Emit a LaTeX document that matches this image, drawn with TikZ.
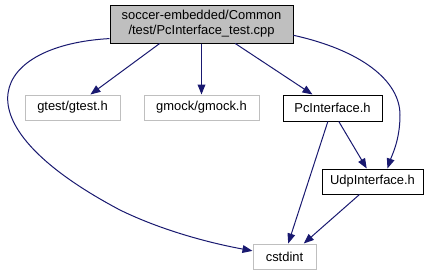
\documentclass[tikz,border=0pt]{standalone}
\usepackage{fontspec}
\setmainfont{Liberation Sans}
\usetikzlibrary{arrows.meta}

\definecolor{edgeblue}{HTML}{191970}
\definecolor{boxgray}{HTML}{BFBFBF}

\tikzset{
  file/.style={draw=black, inner sep=0pt, line width=0.75pt,
    font=\fontsize{9.7}{11.2}\selectfont, align=center},
  extfile/.style={file, draw=boxgray},
  dep/.style={draw=edgeblue, line width=0.75pt,
    -{Triangle[length=7.5pt,width=5.8pt]}}
}

\begin{document}
\begin{tikzpicture}[x=0.75pt, y=-0.75pt]
\useasboundingbox (0,0) rectangle (433,276);

\node[name=n0, file, fill=boxgray, minimum width=183*0.75pt, minimum height=38*0.75pt] at (201.5,24) {soccer-embedded/Common\\/test/PcInterface\_test.cpp};

\node[name=n1, extfile, minimum width=95*0.75pt, minimum height=25*0.75pt] at (72.5,107.5) {gtest/gtest.h};
\node[name=n2, extfile, minimum width=115*0.75pt, minimum height=25*0.75pt] at (201.5,107.5) {gmock/gmock.h};
\node[name=n3, file, minimum width=99*0.75pt, minimum height=26*0.75pt] at (332.5,108) {PcInterface.h};
\node[name=n4, file, minimum width=101*0.75pt, minimum height=25*0.75pt] at (372.5,181.5) {UdpInterface.h};
\node[name=n5, extfile, minimum width=63*0.75pt, minimum height=25*0.75pt] at (284.5,256.5) {cstdint};

\draw[dep] (n0.205) -- (n1.36);
\draw[dep] (n0.south) -- (n2.north);
\draw[dep] (n0.330) -- (n3.146);
\draw[dep] (n0.189) .. controls (-5,45) and (-50,120) .. (120,210)
  .. controls (165,232) and (215,244) .. (n5.170);
\draw[dep] (n0.353) .. controls (360,50) and (400,80) .. (400,115)
  .. controls (400,140) and (392,155) .. (n4.41);
\draw[dep] (n3.295) -- (n4.114);
\draw[dep] (n3.251) -- (n5.74);
\draw[dep] (n4.225) -- (n5.34);
\end{tikzpicture}
\end{document}
